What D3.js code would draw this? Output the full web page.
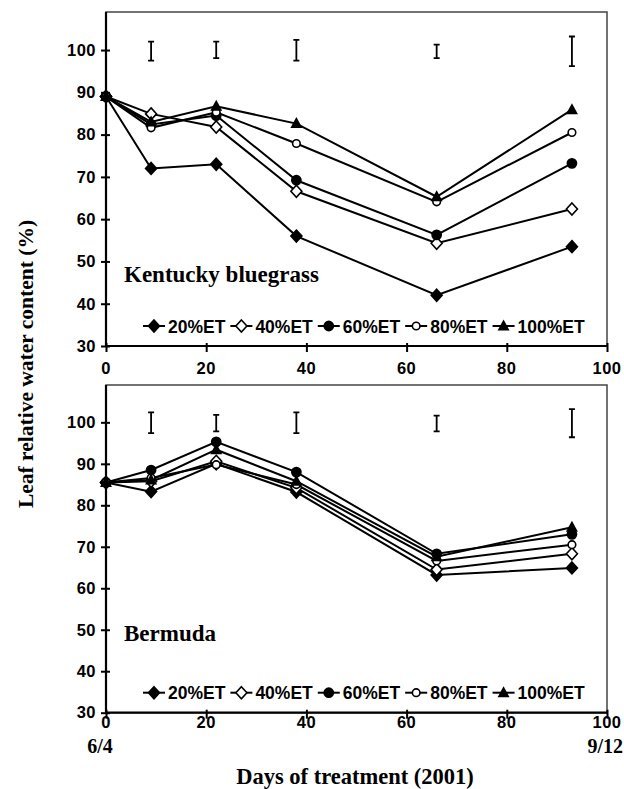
<!doctype html>
<meta charset="utf-8">
<body style="margin:0;background:#fff">
<div id="chart"></div>
<script src="https://d3js.org/d3.v7.min.js"></script>
<script>

// days of treatment
const days = [0, 9, 22, 38, 66, 93]
const treatments = ["20%ET", "40%ET", "60%ET", "80%ET", "100%ET"]
const symbols = ["diamond", "diamondOpen", "circle", "circleOpen", "triangle"]

// Kentucky bluegrass
const kbg20 = [89, 72.0, 73.0, 56.0, 42.0, 53.5]
const kbg40 = [89, 84.9, 81.8, 66.6, 54.3, 62.4]
const kbg60 = [89, 82.4, 84.5, 69.2, 56.3, 73.2]
const kbg80 = [89, 81.6, 85.3, 77.9, 64.1, 80.5]
const kbg100 = [89, 83.0, 86.7, 82.6, 65.3, 85.9]
const kbgLsdLow = [97.5, 98.1, 97.5, 98.1, 96.2]
const kbgLsdHigh = [102.0, 102.0, 102.4, 101.3, 103.2]

// Bermuda
const bmd20 = [85.5, 83.3, 90.0, 83.2, 63.2, 64.9]
const bmd40 = [85.5, 85.8, 90.6, 84.2, 64.5, 68.3]
const bmd60 = [85.5, 88.5, 95.3, 88.0, 68.3, 73.0]
const bmd80 = [85.5, 86.6, 89.8, 85.0, 66.6, 70.5]
const bmd100 = [85.5, 86.1, 93.4, 85.8, 67.6, 74.7]
const bmdLsdLow = [97.4, 97.8, 97.4, 97.8, 96.4]
const bmdLsdHigh = [102.4, 101.8, 102.4, 101.6, 103.2]

const yTicks = [30, 40, 50, 60, 70, 80, 90, 100]
const xTicks = [0, 20, 40, 60, 80, 100]

const svg = d3.select("#chart").append("svg")
  .attr("width", 624)
  .attr("height", 789)

const sans = "'Liberation Sans', Arial, sans-serif"
const serif = "'Liberation Serif', 'Times New Roman', serif"

const x = d3.scaleLinear().domain([0, 100]).range([106, 607])

function marker(g, type, cx, cy) {
  if (type === "diamond" || type === "diamondOpen") {
    g.append("path")
      .attr("d", `M${cx},${cy - 6}L${cx + 5.5},${cy}L${cx},${cy + 6}L${cx - 5.5},${cy}Z`)
      .attr("fill", type === "diamond" ? "#000" : "#fff")
      .attr("stroke", "#000").attr("stroke-width", 1.6)
  } else if (type === "circle" || type === "circleOpen") {
    g.append("circle").attr("cx", cx).attr("cy", cy)
      .attr("r", type === "circle" ? 4.6 : 3.8)
      .attr("fill", type === "circle" ? "#000" : "#fff")
      .attr("stroke", "#000").attr("stroke-width", 1.6)
  } else {
    g.append("path")
      .attr("d", `M${cx},${cy - 6.5}L${cx + 6},${cy + 4.5}L${cx - 6},${cy + 4.5}Z`)
      .attr("fill", "#000")
  }
}

function drawPanel(top, bottom, series, lsdLow, lsdHigh, label, labelY, xLabelY) {
  const y = d3.scaleLinear().domain([30, 109]).range([bottom, top])
  const g = svg.append("g")

  // plot area frame
  g.append("rect")
    .attr("x", x(0)).attr("y", top)
    .attr("width", x(100) - x(0)).attr("height", bottom - top)
    .attr("fill", "none").attr("stroke", "#444").attr("stroke-width", 1.5)

  // y axis
  g.append("g")
    .attr("transform", `translate(${x(0)},0)`)
    .call(d3.axisLeft(y).tickValues(yTicks).tickSize(5).tickPadding(5))
    .call(a => a.select(".domain").attr("stroke-width", 2.2).attr("d", `M0,${top}V${bottom}`))
    .call(a => a.selectAll(".tick line").attr("x1", 4).attr("stroke-width", 2))
    .call(a => a.selectAll(".tick text")
      .attr("font-family", sans).attr("font-weight", "bold")
      .attr("font-size", 16.5).attr("fill", "#000").attr("letter-spacing", 0.5))

  // x axis
  g.append("g")
    .attr("transform", `translate(0,${bottom})`)
    .call(d3.axisBottom(x).tickValues(xTicks).tickSize(6).tickPadding(0))
    .call(a => a.select(".domain").attr("stroke-width", 2.2).attr("d", `M${x(0)},0H${x(100)}`))
    .call(a => a.selectAll(".tick line").attr("y1", -3).attr("stroke-width", 2))
    .call(a => a.selectAll(".tick text").remove())

  g.selectAll(".xlab").data(xTicks).enter().append("text")
    .attr("x", d => x(d)).attr("y", xLabelY)
    .attr("text-anchor", "middle")
    .attr("font-family", sans).attr("font-weight", "bold").attr("font-size", 16.5)
    .attr("letter-spacing", 0.5)
    .text(d => d)

  // LSD bars
  const bars = days.slice(1)
  bars.forEach((d, i) => {
    const bx = x(d)
    g.append("path")
      .attr("d", `M${bx},${y(lsdLow[i])}V${y(lsdHigh[i])}M${bx - 3},${y(lsdLow[i])}H${bx + 3}M${bx - 3},${y(lsdHigh[i])}H${bx + 3}`)
      .attr("stroke", "#000").attr("stroke-width", 1.8).attr("fill", "none")
  })

  // lines
  const line = d3.line().x((d, i) => x(days[i])).y(d => y(d))
  series.forEach(s => {
    g.append("path").attr("d", line(s))
      .attr("fill", "none").attr("stroke", "#000").attr("stroke-width", 2)
  })
  series.forEach((s, k) => {
    s.forEach((v, i) => marker(g, symbols[k], x(days[i]), y(v)))
  })

  // panel label
  g.append("text")
    .attr("x", 124).attr("y", labelY)
    .attr("font-family", serif).attr("font-weight", "bold").attr("font-size", 23)
    .text(label)

  // legend
  let lx = 143
  const ly = bottom - 20
  treatments.forEach((t, k) => {
    g.append("line").attr("x1", lx).attr("x2", lx + 22).attr("y1", ly).attr("y2", ly)
      .attr("stroke", "#000").attr("stroke-width", 2)
    marker(g, symbols[k], lx + 11, ly)
    const txt = g.append("text")
      .attr("x", lx + 25).attr("y", ly + 6.5)
      .attr("font-family", sans).attr("font-weight", "bold").attr("font-size", 17.5)
      .text(t)
    lx += 25 + txt.node().getComputedTextLength() + 5
  })
}

drawPanel(12, 346, [kbg20, kbg40, kbg60, kbg80, kbg100], kbgLsdLow, kbgLsdHigh,
  "Kentucky bluegrass", 282, 374)
drawPanel(385, 712.7, [bmd20, bmd40, bmd60, bmd80, bmd100], bmdLsdLow, bmdLsdHigh,
  "Bermuda", 641, 728)

// date labels
svg.append("text").attr("x", 100).attr("y", 753).attr("text-anchor", "middle")
  .attr("font-family", serif).attr("font-weight", "bold").attr("font-size", 20)
  .text("6/4")
svg.append("text").attr("x", 623).attr("y", 753).attr("text-anchor", "end")
  .attr("font-family", serif).attr("font-weight", "bold").attr("font-size", 20)
  .text("9/12")

svg.append("text").attr("x", 355).attr("y", 784).attr("text-anchor", "middle")
  .attr("font-family", serif).attr("font-weight", "bold").attr("font-size", 22.5)
  .text("Days of treatment (2001)")

svg.append("text")
  .attr("transform", "translate(33,364) rotate(-90)")
  .attr("text-anchor", "middle")
  .attr("font-family", serif).attr("font-weight", "bold").attr("font-size", 21.5)
  .text("Leaf relative water content (%)")

</script>
</body>
